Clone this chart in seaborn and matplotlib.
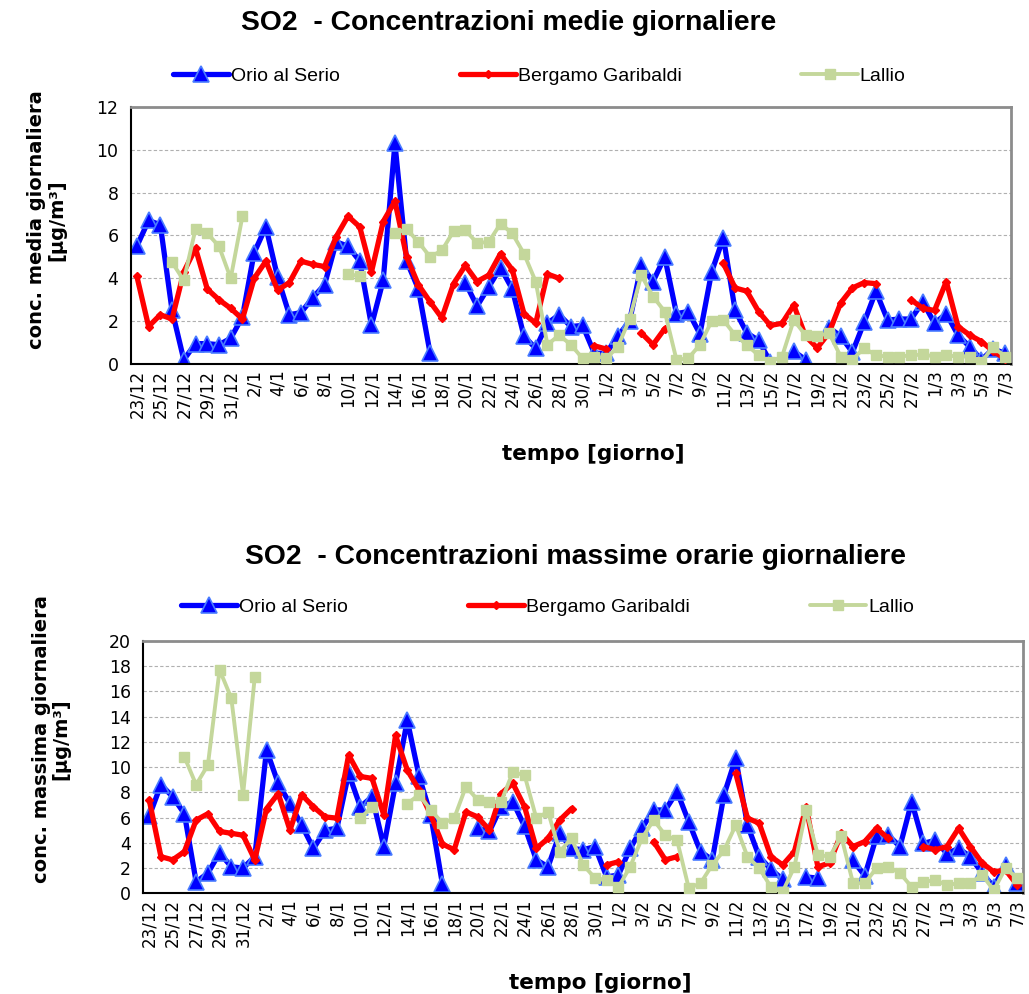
import numpy as np
import pandas as pd
import matplotlib
matplotlib.use("Agg")
import matplotlib.pyplot as plt
from matplotlib.lines import Line2D
import seaborn as sns

nan = np.nan

# giorni 23/12 -> 7/3
days = pd.date_range("2009-12-23", "2010-03-07", freq="D")
day_labels = [f"{d.day}/{d.month}" for d in days]

# concentrazioni medie giornaliere [ug/m3]
orio_media = [5.5, 6.7, 6.5, 2.5, 0.2, 0.95, 0.95, 0.9, 1.2, 2.2,
              5.2, 6.4, 4.05, 2.3, 2.4, 3.1, 3.7, 5.7, 5.5, 4.8,
              1.8, 3.9, 10.3, 4.8, 3.5, 0.5, nan, nan, 3.8, 2.7,
              3.6, 4.5, 3.5, 1.3, 0.73, 1.9, 2.3, 1.75, 1.8, 0.5,
              0.5, 1.3, 2.0, 4.6, 3.85, 5.0, 2.35, 2.45, 1.4, 4.3,
              5.9, 2.5, 1.45, 1.1, 0.1, nan, 0.6, 0.2, nan, 1.7,
              1.3, 0.55, 1.95, 3.4, 2.05, 2.1, 2.1, 2.9, 1.9, 2.35,
              1.35, 0.8, 0.2, 0.7, 0.5]
garibaldi_media = [4.1, 1.75, 2.3, 2.1, 4.3, 5.4, 3.5, 3.0, 2.6, 2.1,
                   4.0, 4.8, 3.45, 3.8, 4.8, 4.65, 4.55, 5.95, 6.9, 6.4,
                   4.3, 6.65, 7.6, 5.0, 3.7, 2.9, 2.15, 3.75, 4.6, 3.85,
                   4.15, 5.15, 4.4, 2.35, 1.9, 4.2, 4.0, nan, nan, 0.85,
                   0.7, nan, nan, 1.45, 0.9, 1.65, nan, nan, nan, nan,
                   4.7, 3.55, 3.4, 2.45, 1.8, 1.9, 2.75, 1.3, 0.75, 1.45,
                   2.85, 3.55, 3.8, 3.75, nan, nan, 3.0, 2.6, 2.5, 3.85,
                   1.75, 1.35, 1.05, 0.6, 0.25]
lallio_media = [nan, nan, nan, 4.75, 3.9, 6.3, 6.1, 5.5, 4.0, 6.9,
                nan, nan, nan, nan, nan, nan, nan, nan, 4.2, 4.1,
                nan, nan, 6.1, 6.3, 5.7, 5.0, 5.3, 6.2, 6.25, 5.65,
                5.7, 6.55, 6.1, 5.15, 3.85, 0.9, 1.35, 0.9, 0.26, 0.35,
                0.26, 0.8, 2.1, 4.15, 3.15, 2.45, 0.2, 0.26, 0.9, 2.0,
                2.05, 1.35, 0.9, 0.4, 0.1, 0.35, 2.05, 1.35, 1.3, 1.45,
                0.35, 0.2, 0.75, 0.4, 0.35, 0.35, 0.4, 0.45, 0.35, 0.4,
                0.35, 0.35, 0.1, 0.8, 0.35]

# concentrazioni massime orarie giornaliere [ug/m3]
orio_max = [6.1, 8.6, 7.65, 6.3, 0.9, 1.6, 3.2, 2.1, 2.0, 2.9,
            11.35, 8.7, 7.1, 5.4, 3.55, 5.0, 5.15, 9.5, 6.85, 7.65,
            3.7, 8.7, 13.7, 9.3, 6.2, 0.7, nan, nan, 5.15, 4.9,
            6.85, 7.25, 5.3, 2.65, 2.1, 4.75, 3.55, 3.45, 3.7, 1.3,
            1.45, 3.55, 5.15, 6.6, 6.6, 8.05, 5.65, 3.3, 2.65, 7.8,
            10.7, 5.4, 2.9, 1.9, 1.1, nan, 1.3, 1.2, nan, nan,
            2.6, 1.4, 4.5, 4.6, 3.7, 7.25, 3.95, 4.2, 3.15, 3.55,
            2.9, 1.6, 0.5, 2.25, 0.8]
garibaldi_max = [7.4, 2.9, 2.65, 3.3, 5.8, 6.3, 4.9, 4.75, 4.6, 2.65,
                 6.7, 7.9, 5.0, 7.8, 6.85, 6.05, 5.95, 10.95, 9.25, 9.1,
                 6.2, 12.5, 9.75, 8.2, 6.2, 3.9, 3.45, 6.45, 6.05, 5.0,
                 7.9, 8.7, 6.85, 3.55, 4.35, 5.8, 6.7, nan, nan, 2.25,
                 2.5, nan, nan, 4.1, 2.65, 2.9, nan, nan, nan, nan,
                 9.5, 5.95, 5.55, 2.9, 2.25, 3.3, 6.85, 2.1, 2.4, 4.75,
                 3.7, 4.1, 5.15, 4.35, nan, nan, 3.7, 3.45, 3.7, 5.15,
                 3.7, 2.4, 1.7, 1.85, 0.65]
lallio_max = [nan, nan, nan, 10.8, 8.6, 10.15, 17.7, 15.45, 7.8, 17.15,
              nan, nan, nan, nan, nan, nan, nan, nan, 5.95, 6.85,
              nan, nan, 7.1, 7.8, 6.6, 5.55, 5.95, 8.45, 7.4, 7.25,
              7.25, 9.6, 9.35, 5.95, 6.45, 3.3, 4.35, 2.25, 1.2, 1.05,
              0.5, 2.1, 4.35, 5.8, 4.6, 4.2, 0.4, 0.8, 2.25, 3.4,
              5.4, 2.9, 2.0, 0.5, 0.13, 2.1, 6.6, 3.05, 2.9, 4.5,
              0.8, 0.8, 2.0, 2.1, 1.6, 0.5, 0.9, 1.05, 0.65, 0.8,
              0.8, 1.45, 0.25, 2.0, 1.2]

stations = ["Orio al Serio", "Bergamo Garibaldi", "Lallio"]

# stile delle serie
styles = {
    "Orio al Serio": dict(color="#0000FF", linewidth=3.8, marker="^", markersize=12,
                          markerfacecolor="#0000FF", markeredgecolor="#4A7DFF",
                          markeredgewidth=1.2, zorder=2),
    "Bergamo Garibaldi": dict(color="#FF0000", linewidth=3.8, marker="D", markersize=4.5,
                              markerfacecolor="#FF0000", markeredgecolor="#FF0000",
                              markeredgewidth=1, zorder=3),
    "Lallio": dict(color="#C4D79B", linewidth=2.8, marker="s", markersize=6.5,
                   markerfacecolor="#C4D79B", markeredgecolor="#C4D79B",
                   markeredgewidth=1, zorder=4),
}

narrow = ["Liberation Sans", "DejaVu Sans"]


def segments(values):
    # spezza la serie dove mancano i dati
    df = pd.DataFrame({"giorno": np.arange(len(values)), "conc": values})
    df["tratto"] = df["conc"].isna().cumsum()
    return df.dropna()


def draw_panel(ax, series, ymax, ylabel, ylab_xy, xlab_x):
    for name, values in zip(stations, series):
        sns.lineplot(data=segments(values), x="giorno", y="conc", units="tratto",
                     estimator=None, legend=False, ax=ax, **styles[name])

    ax.set_xlim(-0.5, len(days) - 0.5)
    ax.set_ylim(0, ymax)
    ax.set_yticks(np.arange(0, ymax + 1, 2))
    ax.set_xticks(np.arange(0, len(days), 2))
    ax.set_xticklabels(day_labels[::2], rotation=90, fontsize=12)
    ax.set_xticks(np.arange(-0.5, len(days), 2), minor=True)
    ax.tick_params(axis="x", which="major", length=0, pad=4)
    ax.tick_params(axis="x", which="minor", length=5, width=1, direction="out")
    ax.tick_params(axis="y", labelsize=12.5, length=5, width=1, direction="out", pad=4)
    ax.grid(axis="y", linestyle=(0, (3, 2)), color="#B0B0B0", linewidth=0.8)
    ax.grid(axis="x", visible=False)
    ax.set_axisbelow(True)

    for side in ["top", "right"]:
        ax.spines[side].set_color("#8C8C8C")
        ax.spines[side].set_linewidth(2)
    for side in ["left", "bottom"]:
        ax.spines[side].set_color("black")
        ax.spines[side].set_linewidth(1.5)

    ax.set_xlabel("tempo [giorno]", fontsize=15.5, fontweight="bold", labelpad=19, x=xlab_x)
    ax.set_ylabel(ylabel, fontsize=14, fontweight="bold", linespacing=1.05)
    ax.yaxis.set_label_coords(*ylab_xy)


sns.set_style("white")
plt.rcParams["font.family"] = ["DejaVu Sans"]
for key in ["text.color", "axes.labelcolor", "xtick.color", "ytick.color"]:
    plt.rcParams[key] = "black"

fig = plt.figure(figsize=(10.29, 9.94), dpi=100)
ax1 = fig.add_axes([0.1273, 0.6338, 0.855, 0.2586])
ax2 = fig.add_axes([0.1393, 0.1013, 0.855, 0.2541])

draw_panel(ax1, [orio_media, garibaldi_media, lallio_media], 12,
           "conc. media giornaliera\n[µg/m³]", (-0.074, 0.56), 0.525)
draw_panel(ax2, [orio_max, garibaldi_max, lallio_max], 20,
           "conc. massima giornaliera\n[µg/m³]", (-0.083, 0.61), 0.519)

fig.text(0.494, 0.977, "SO2  - Concentrazioni medie giornaliere", ha="center", va="center",
         fontsize=20.3, fontweight="bold", family=narrow)
fig.text(0.559, 0.440, "SO2  - Concentrazioni massime orarie giornaliere", ha="center",
         va="center", fontsize=20.3, fontweight="bold", family=narrow)

handles = [Line2D([], [], **{k: v for k, v in styles[n].items() if k != "zorder"})
           for n in stations]
for y, x0 in [(0.9235, 0.151), (0.389, 0.159)]:
    fig.legend(handles, stations, loc="center left", bbox_to_anchor=(x0, y), ncol=3,
               frameon=False, numpoints=1, handlelength=2.9, handletextpad=0.1,
               columnspacing=6.15, prop={"family": narrow, "size": 14})

fig.savefig("out.png", dpi=100)
